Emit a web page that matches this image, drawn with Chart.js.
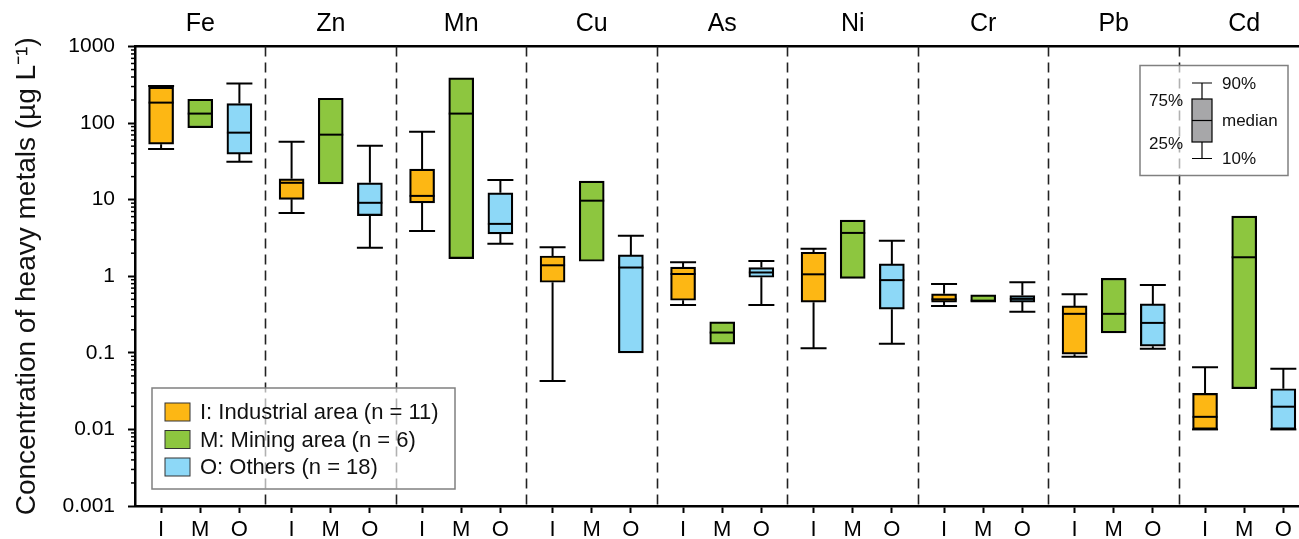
<!DOCTYPE html>
<html>
<head>
<meta charset="utf-8">
<script src="https://cdn.jsdelivr.net/npm/chart.js@4.4.1/dist/chart.umd.min.js"></script>
<style>
  html, body { margin: 0; padding: 0; background: #fff; }
  #wrap { width: 1299px; height: 539px; position: relative; }
</style>
</head>
<body>
<div id="wrap"><canvas id="myChart"></canvas></div>
<script>
const metals = ['Fe', 'Zn', 'Mn', 'Cu', 'As', 'Ni', 'Cr', 'Pb', 'Cd'];
const areaCodes = ['I', 'M', 'O'];
const areaNames = ['I: Industrial area (n = 11)', 'M: Mining area (n = 6)', 'O: Others (n = 18)'];
const areaColors = ['#FDB714', '#8DC63F', '#8DD8F7'];
const yTickLabels = ['0.001', '0.01', '0.1', '1', '10', '100', '1000'];

// percentiles (ug/L), one entry per metal
const indP10 = [46, 6.7, 3.9, 0.043, 0.42, 0.115, 0.41, 0.089, 0.01];
const indQ1  = [53, 10.1, 9.1, 0.835, 0.486, 0.458, 0.46, 0.096, 0.01];
const indMed = [185, 16.6, 11.2, 1.39, 1.07, 1.06, 0.50, 0.323, 0.0146];
const indQ3  = [295, 18.7, 25, 1.84, 1.32, 2.06, 0.59, 0.41, 0.0295];
const indP90 = [305, 57, 77, 2.39, 1.52, 2.28, 0.79, 0.58, 0.065];

// mining area: n = 6, no whiskers drawn
const minP10 = [null, null, null, null, null, null, null, null, null];
const minQ1  = [87, 16.1, 1.70, 1.57, 0.130, 0.94, 0.46, 0.182, 0.034];
const minMed = [133, 70.6, 133, 9.7, 0.184, 3.68, 0.48, 0.323, 1.77];
const minQ3  = [205, 211, 389, 17.5, 0.254, 5.4, 0.57, 0.94, 6.1];
const minP90 = [null, null, null, null, null, null, null, null, null];

const othP10 = [31.3, 2.35, 2.65, null, 0.42, 0.131, 0.343, 0.113, 0.01];
const othQ1  = [39.4, 6.2, 3.57, 0.1, 0.97, 0.371, 0.46, 0.122, 0.01];
const othMed = [75, 9.1, 4.83, 1.30, 1.12, 0.89, 0.506, 0.246, 0.0198];
const othQ3  = [180, 16.6, 12.3, 1.9, 1.30, 1.45, 0.56, 0.435, 0.034];
const othP90 = [328, 50.7, 18, 3.37, 1.58, 2.9, 0.835, 0.77, 0.062];

const stats = [
    [indP10, indQ1, indMed, indQ3, indP90],
    [minP10, minQ1, minMed, minQ3, minP90],
    [othP10, othQ1, othMed, othQ3, othP90]
];

const FONT = '"Liberation Sans", Arial, sans-serif';
const BOX_W = 25;
const CAP_W = 26;

// x position of box j inside metal group g (group width = 10 units)
function xPos(g, j) { return g * 10 + 2 + j * 3; }

const majorTicks = yTickLabels.map(Number);
const allYTicks = [];
majorTicks.forEach((v, i) => {
    allYTicks.push(v);
    if (i < majorTicks.length - 1) {
        for (let m = 2; m <= 9; m++) allYTicks.push(Number((m * v).toPrecision(2)));
    }
});

const boxPositions = [];
metals.forEach((m, g) => areaCodes.forEach((c, j) => boxPositions.push(xPos(g, j))));

const datasets = areaCodes.map((code, j) => ({
    label: areaNames[j],
    data: metals.map((m, g) => ({ x: xPos(g, j), y: [stats[j][1][g], stats[j][3][g]] })),
    backgroundColor: areaColors[j],
    borderColor: '#000',
    borderWidth: 2.2,
    borderSkipped: false,
    barThickness: BOX_W,
    grouped: false
}));

const boxPlotExtras = {
    id: 'boxPlotExtras',
    beforeDatasetsDraw(chart) {
        const { ctx, chartArea: a, scales } = chart;
        ctx.save();
        // dashed group dividers
        ctx.strokeStyle = '#222';
        ctx.lineWidth = 1.6;
        ctx.setLineDash([10, 6]);
        for (let g = 1; g < metals.length; g++) {
            const x = Math.round(scales.x.getPixelForValue(g * 10)) + 0.5;
            ctx.beginPath();
            ctx.moveTo(x, a.top);
            ctx.lineTo(x, a.bottom);
            ctx.stroke();
        }
        ctx.setLineDash([]);
        // minor log ticks
        ctx.strokeStyle = '#000';
        ctx.lineWidth = 1.5;
        allYTicks.forEach(v => {
            if (majorTicks.includes(v)) return;
            const y = scales.y.getPixelForValue(v);
            ctx.beginPath();
            ctx.moveTo(a.left - 4, y);
            ctx.lineTo(a.left, y);
            ctx.stroke();
        });
        ctx.restore();
    },
    afterDatasetsDraw(chart) {
        const { ctx, chartArea: a, scales } = chart;
        const ys = scales.y;
        ctx.save();
        ctx.strokeStyle = '#000';
        ctx.lineWidth = 2;
        stats.forEach((s, j) => {
            metals.forEach((m, g) => {
                const cx = scales.x.getPixelForValue(xPos(g, j));
                const [p10, q1, med, q3, p90] = s.map(arr => arr[g]);
                // median
                const ym = ys.getPixelForValue(med);
                ctx.beginPath();
                ctx.moveTo(cx - BOX_W / 2, ym);
                ctx.lineTo(cx + BOX_W / 2, ym);
                ctx.stroke();
                // whiskers
                [[p90, q3], [p10, q1]].forEach(([p, q]) => {
                    if (p == null) return;
                    const yp = ys.getPixelForValue(p);
                    const yq = ys.getPixelForValue(q);
                    ctx.beginPath();
                    ctx.moveTo(cx, yq);
                    ctx.lineTo(cx, yp);
                    ctx.moveTo(cx - CAP_W / 2, yp);
                    ctx.lineTo(cx + CAP_W / 2, yp);
                    ctx.stroke();
                });
            });
        });

        // area legend, lower left
        const lx = a.left + 17, ly = a.bottom - 118, lw = 303, lh = 101;
        ctx.fillStyle = 'rgba(255,255,255,0.65)';
        ctx.fillRect(lx, ly, lw, lh);
        ctx.strokeStyle = '#808080';
        ctx.lineWidth = 1.5;
        ctx.strokeRect(lx, ly, lw, lh);
        ctx.font = '22px ' + FONT;
        ctx.textBaseline = 'middle';
        ctx.textAlign = 'left';
        areaNames.forEach((name, j) => {
            const cy = ly + 24 + j * 27.5;
            ctx.fillStyle = areaColors[j];
            ctx.fillRect(lx + 13, cy - 9, 25, 18);
            ctx.strokeStyle = '#333';
            ctx.lineWidth = 1;
            ctx.strokeRect(lx + 13, cy - 9, 25, 18);
            ctx.fillStyle = '#111';
            ctx.fillText(name, lx + 48, cy + 1);
        });

        // box-plot key, upper right
        const kx = a.right - 159, ky = a.top + 19, kw = 148, kh = 110;
        ctx.fillStyle = 'rgba(255,255,255,0.65)';
        ctx.fillRect(kx, ky, kw, kh);
        ctx.strokeStyle = '#808080';
        ctx.lineWidth = 1.5;
        ctx.strokeRect(kx, ky, kw, kh);
        const bx = kx + 62, bw = 20;
        const k90 = ky + 17.5, k75 = ky + 33.5, kmed = ky + 55, k25 = ky + 76.5, k10 = ky + 93;
        ctx.strokeStyle = '#000';
        ctx.lineWidth = 1.2;
        ctx.beginPath();
        ctx.moveTo(bx, k90); ctx.lineTo(bx, k10);
        ctx.moveTo(bx - 10, k90); ctx.lineTo(bx + 10, k90);
        ctx.moveTo(bx - 10, k10); ctx.lineTo(bx + 10, k10);
        ctx.stroke();
        ctx.fillStyle = '#A7A7A9';
        ctx.fillRect(bx - bw / 2, k75, bw, k25 - k75);
        ctx.strokeRect(bx - bw / 2, k75, bw, k25 - k75);
        ctx.beginPath();
        ctx.moveTo(bx - bw / 2, kmed); ctx.lineTo(bx + bw / 2, kmed);
        ctx.stroke();
        ctx.font = '17px ' + FONT;
        ctx.fillStyle = '#111';
        ctx.textAlign = 'left';
        ctx.fillText('90%', kx + 82, k90 + 1);
        ctx.fillText('median', kx + 82, kmed + 1);
        ctx.fillText('10%', kx + 82, k10 + 1);
        ctx.textAlign = 'right';
        ctx.fillText('75%', kx + 43, k75 + 2);
        ctx.fillText('25%', kx + 43, k25 + 2);
        ctx.restore();
    }
};

const ctx = document.getElementById('myChart');

new Chart(ctx, {
    type: 'bar',
    data: { datasets: datasets },
    plugins: [boxPlotExtras],
    options: {
        responsive: true,
        maintainAspectRatio: false,
        animation: false,
        layout: { padding: 0 },
        plugins: {
            legend: { display: false },
            tooltip: { enabled: false }
        },
        scales: {
            x: {
                type: 'linear',
                position: 'bottom',
                min: 0,
                max: 89.2,
                bounds: 'data',
                offset: false,
                afterFit: s => { s.height = 33; },
                afterBuildTicks: s => { s.ticks = boxPositions.map(v => ({ value: v })); },
                grid: {
                    offset: false,
                    drawOnChartArea: false,
                    drawTicks: true,
                    tickLength: 7,
                    tickWidth: 2,
                    tickColor: '#000'
                },
                border: { display: true, color: '#000', width: 2.5 },
                ticks: {
                    autoSkip: false,
                    maxRotation: 0,
                    padding: 4,
                    color: '#000',
                    font: { family: FONT, size: 22 },
                    callback: (value, index) => areaCodes[index % 3]
                }
            },
            x2: {
                type: 'linear',
                position: 'top',
                min: 0,
                max: 89.2,
                bounds: 'data',
                offset: false,
                afterFit: s => { s.height = 46.5; },
                afterBuildTicks: s => { s.ticks = metals.map((m, g) => ({ value: g * 10 + 5 })); },
                grid: { drawOnChartArea: false, drawTicks: false },
                border: { display: true, color: '#000', width: 2.5 },
                ticks: {
                    autoSkip: false,
                    maxRotation: 0,
                    padding: 7,
                    color: '#000',
                    font: { family: FONT, size: 25 },
                    callback: (value, index) => metals[index]
                }
            },
            y: {
                type: 'logarithmic',
                min: 0.001,
                max: 1000,
                bounds: 'data',
                afterFit: s => { s.width = 135; },
                afterBuildTicks: s => { s.ticks = allYTicks.map(v => ({ value: v })); },
                grid: {
                    drawOnChartArea: false,
                    drawTicks: true,
                    tickLength: 7,
                    tickWidth: 2,
                    tickColor: c => majorTicks.includes(c.tick.value) ? '#000' : 'rgba(0,0,0,0)'
                },
                border: { display: true, color: '#000', width: 2.5 },
                title: {
                    display: true,
                    text: 'Concentration of heavy metals (µg L⁻¹)',
                    color: '#111',
                    font: { family: FONT, size: 28 },
                    padding: { top: 10, bottom: 0 }
                },
                ticks: {
                    autoSkip: false,
                    padding: 13,
                    color: '#000',
                    font: { family: FONT, size: 21 },
                    callback: function(value) {
                        const i = majorTicks.indexOf(value);
                        return i >= 0 ? yTickLabels[i] : '';
                    }
                }
            }
        }
    }
});
</script>
</body>
</html>
